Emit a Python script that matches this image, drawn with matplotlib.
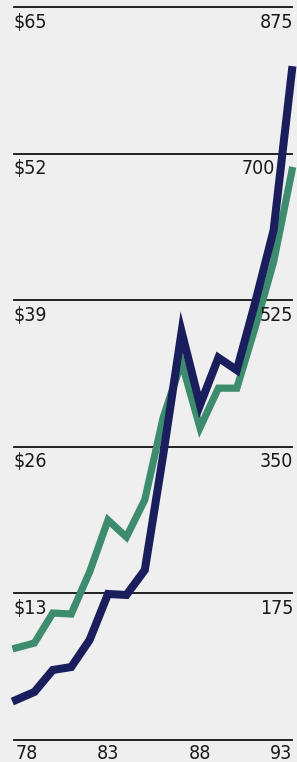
import matplotlib
matplotlib.use('Agg')
import matplotlib.pyplot as plt

years = [78, 79, 80, 81, 82, 83, 84, 85, 86, 87, 88, 89, 90, 91, 92, 93]
navy_vals = [3.55, 4.26, 6.21, 6.47, 8.87, 12.95, 12.86, 15.07, 25.3, 36.2,
             29.7, 33.9, 32.8, 38.8, 45.2, 59.4]
green_vals = [8.16, 8.6, 11.26, 11.17, 14.9, 19.5, 18.0, 21.3, 28.6, 33.5,
              27.7, 31.2, 31.2, 36.6, 42.4, 50.5]
left_ticks = [13, 26, 39, 52, 65]
left_labels = ['$13', '$26', '$39', '$52', '$65']
right_labels = ['175', '350', '525', '700', '875']
x_ticks = [78, 83, 88, 93]

bg = '#efefef'
plt.rcParams['font.family'] = ['DejaVu Sans']
plt.rcParams['font.stretch'] = 'condensed'

W, H = 297, 762
fig = plt.figure(figsize=(W / 100, H / 100), dpi=100, facecolor=bg)
ax = fig.add_axes([16 / W, (H - 740) / H, (292 - 16) / W, (740 - 7) / H])
ax.set_facecolor(bg)
ax.set_xlim(78, 93)
ax.set_ylim(0, 65)
for s in ax.spines.values():
    s.set_visible(False)

# grid lines
for v in [0] + left_ticks:
    ax.axhline(v, xmin=-0.008, xmax=1.0, color='#111111', lw=1.3,
               clip_on=False, zorder=1)

ax.plot(years, green_vals, color='#3d8c6e', lw=5.2, solid_joinstyle='miter',
        clip_on=False, zorder=2)
ax.plot(years, navy_vals, color='#1a1e5c', lw=5.8, solid_joinstyle='miter',
        clip_on=False, zorder=3)

# axis labels sit just under each grid line
for v, ll, rl in zip(left_ticks, left_labels, right_labels):
    ax.annotate(ll, (0, v), xycoords=('axes fraction', 'data'),
                xytext=(-2, -4), textcoords='offset points',
                ha='left', va='top', fontsize=14, color='#1a1a1a')
    # the 700 label is pushed left so the navy line doesn't run over it
    dx = -12 if rl == '700' else 1
    ax.annotate(rl, (1, v), xycoords=('axes fraction', 'data'),
                xytext=(dx, -4), textcoords='offset points',
                ha='right', va='top', fontsize=14, color='#1a1a1a',
                zorder=4)

ax.set_yticks([])
ax.set_xticks(x_ticks)
ax.set_xticklabels([str(x) for x in x_ticks], fontsize=14, color='#1a1a1a')
ax.tick_params(axis='x', length=0, pad=3)
labs = ax.get_xticklabels()
labs[0].set_ha('left')
labs[-1].set_ha('right')

fig.savefig('out.png', dpi=100, facecolor=bg)
